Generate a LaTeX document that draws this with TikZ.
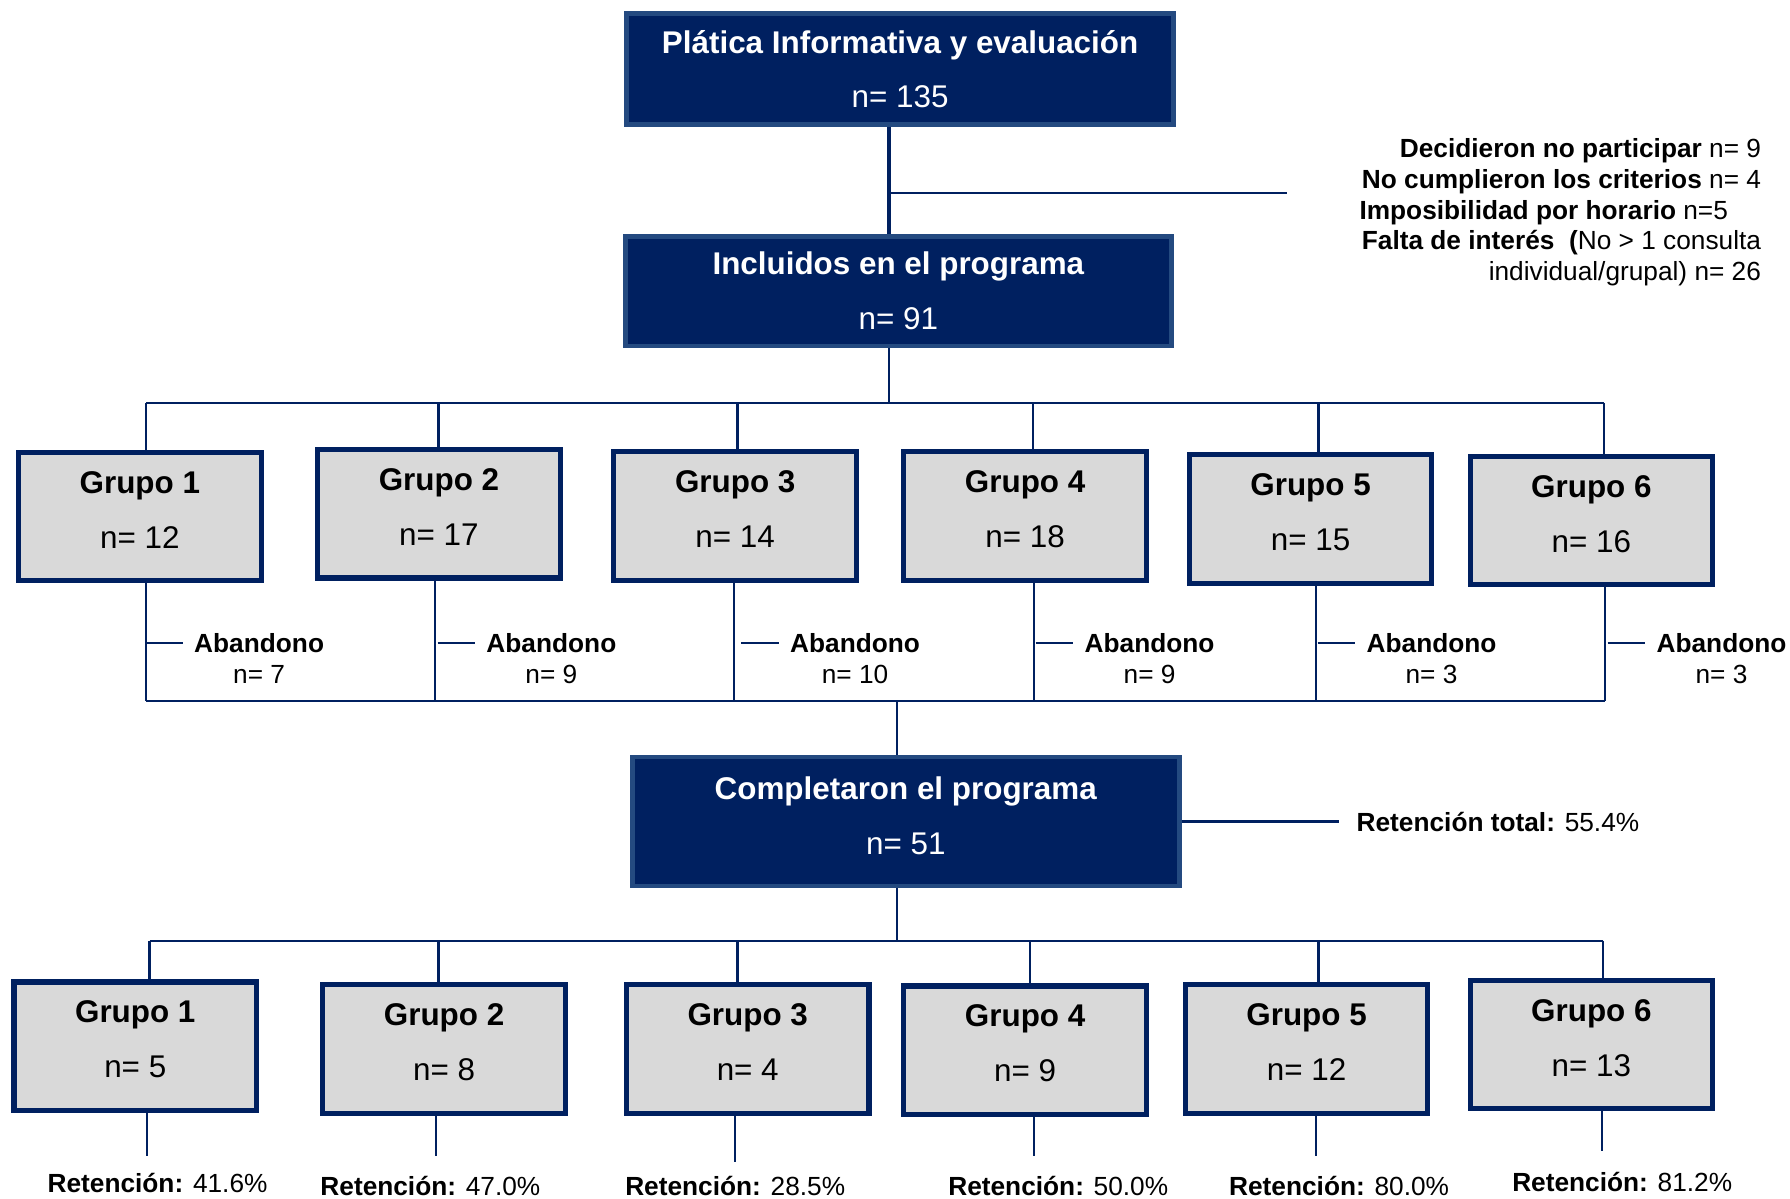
\documentclass[tikz,border=0pt]{standalone}
\usepackage{fontspec}
\setmainfont{Liberation Sans}
\definecolor{navy}{HTML}{002060}
\definecolor{rimblue}{HTML}{244A80}
\definecolor{boxgray}{HTML}{D9D9D9}

\tikzset{
    bigbox/.style={rectangle, draw=rimblue, line width=2pt, fill=navy, text=white, align=center, inner sep=0pt, font=\fontsize{13.75}{24}\selectfont},
    grpbox/.style={rectangle, draw=navy, line width=2.25pt, fill=boxgray, align=center, inner sep=0pt, minimum width=106.25pt, minimum height=56.25pt, text depth=6pt, font=\fontsize{13.75}{24}\selectfont},
    link/.style={draw=navy, line width=1pt},
    thicklink/.style={draw=navy, line width=1.75pt},
    lbl/.style={inner sep=0pt, font=\fontsize{11.5}{13.5}\selectfont}
    }

\begin{document}
\begin{tikzpicture}[x=0.5pt, y=-0.5pt]
\useasboundingbox (0,0) rectangle (1568,1050);

% The Boxes
\node(plat)[bigbox, minimum width=239.5pt, minimum height=48.5pt] at (788.5,60.5)
    {\textbf{Plática Informativa y evaluación}\\n= 135};
\node(incl)[bigbox, minimum width=239pt, minimum height=48pt] at (787,255)
    {\textbf{Incluidos en el programa}\\n= 91};
\node(comp)[bigbox, minimum width=239.5pt, minimum height=56.5pt, text depth=5pt] at (793.5,719.5)
    {\textbf{Completaron el programa}\\n= 51};

\foreach \i/\x/\y/\k in {1/122.5/452.5/12, 2/384.5/450/17, 3/644/452/14, 4/898/452/18, 5/1148/454.5/15, 6/1394/456/16}
    \node(g\i)[grpbox] at (\x,\y) {\textbf{Grupo \i}\\n= \k};
\foreach \i/\x/\y/\k in {1/118.5/916.5/5, 2/389/919/8, 3/655/919/4, 4/898/920/9, 5/1144.5/919/12, 6/1394/915/13}
    \node(h\i)[grpbox] at (\x,\y) {\textbf{Grupo \i}\\n= \k};

% Exclusions
\coordinate (x0) at (779,169);
\coordinate (x1) at (1127,169);
\node(excl)[lbl, anchor=east, align=right] at (1543,186)
    {\textbf{Decidieron no participar} n= 9\\
     \textbf{No cumplieron los criterios} n= 4\\
     \textbf{Imposibilidad por horario} n=5\rule{14.5pt}{0pt}\\
     \textbf{Falta de interés}\ \ \textbf{(}No > 1 consulta\\
     individual/grupal) n= 26};

% The Lines
\coordinate (v0) at (779,353);
\draw[thicklink] (v0 |- plat.south) -- (v0 |- incl.north);
\draw[link] (x0) -- (x1);
\draw[link] (v0 |- incl.south) -- (v0);

\foreach \i/\x in {1/128,2/384,3/646,4/905,5/1155,6/1405}{
    \coordinate (d\i) at (\x,353);
    \draw[link] (d\i) -- (d\i |- g\i.north);
}
\draw[link] (d1) -- (d6);

\foreach \i/\x in {1/128,2/381,3/643,4/906,5/1153,6/1406}{
    \coordinate (a\i) at (\x,614);
    \draw[link] (a\i |- g\i.south) -- (a\i);
}
\draw[link] (a1) -- (a6);

\foreach \i/\x/\k in {1/227/7,2/483/9,3/749/10,4/1007/9,5/1254/3,6/1508/3}{
    \node(ab\i)[lbl, inner xsep=4.75pt] at (\x,563) {\textbf{Abandono}};
    \node(nab\i)[lbl] at (\x,591) {n= \k};
    \draw[link] ([xshift=-16.5pt]ab\i.west) -- (ab\i.west);
}

\coordinate (m1) at (786,614);
\coordinate (m2) at (786,824);
\draw[link] (m1) -- (m1 |- comp.north);
\draw[link] (m2 |- comp.south) -- (m2);

\node(rt)[lbl, anchor=west, inner xsep=7.5pt] at (1173,720) {\textbf{Retención total:} 55.4\%};
\draw[link] (comp.east) -- (comp.east -| rt.west);

\foreach \i/\x in {1/131,2/384,3/646,4/902,5/1155,6/1404}{
    \coordinate (e\i) at (\x,824);
    \draw[link] (e\i) -- (e\i |- h\i.north);
}
\draw[link] (e1) -- (e6);

\foreach \i/\x/\y in {1/129/1013,2/382/1013,3/644/1018,4/906/1013,5/1153/1013,6/1403/1008}{
    \coordinate (r\i) at (\x,\y);
    \draw[link] (r\i |- h\i.south) -- (r\i);
}

\foreach \i/\x/\y/\p in {1/138/1036/41.6,2/377/1039/47.0,3/644/1039/28.5,4/927/1039/50.0,5/1173/1039/80.0,6/1421/1035/81.2}
    \node(ret\i)[lbl] at (\x,\y) {\textbf{Retención:} \p\%};
\end{tikzpicture}
\end{document}
